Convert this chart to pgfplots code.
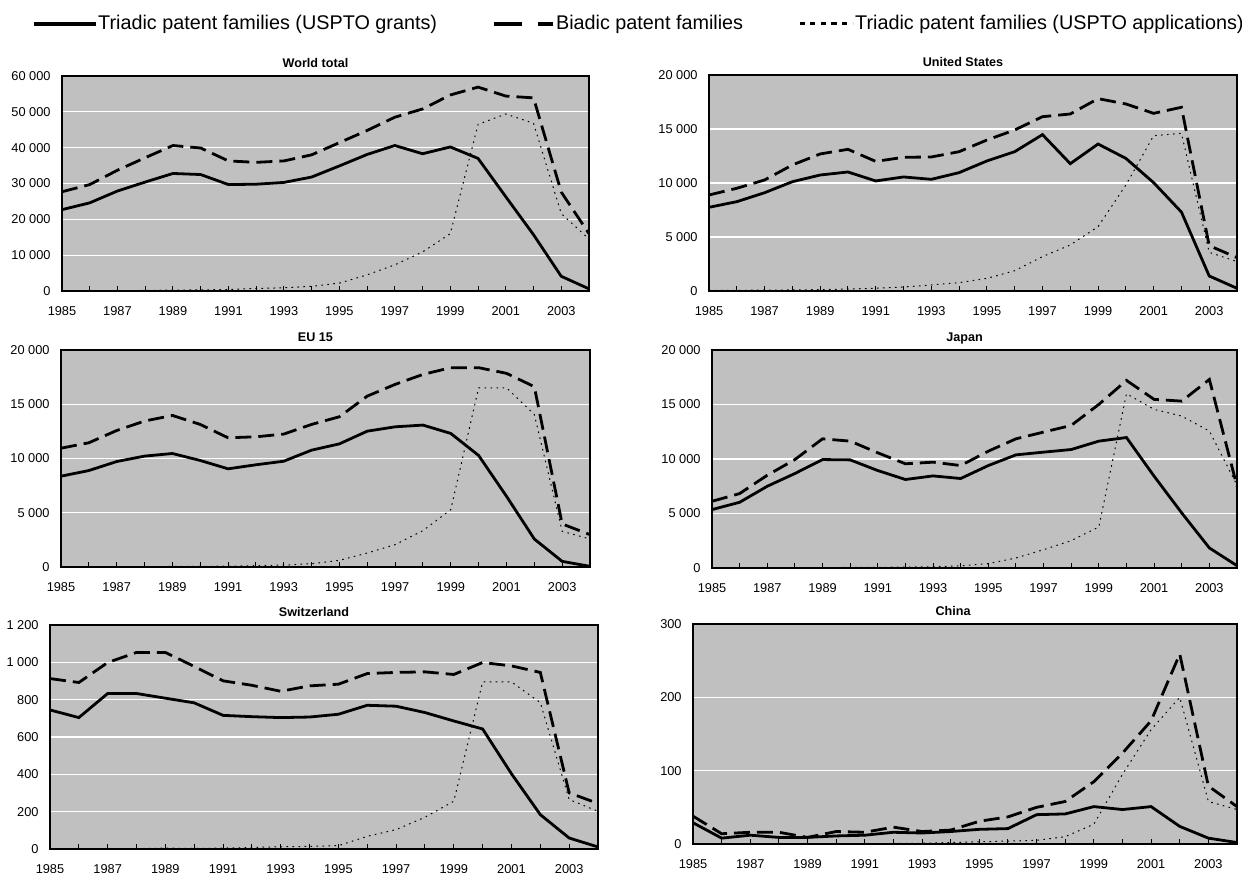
\documentclass[border=0pt]{standalone}
\usepackage{fontspec}
\setmainfont{Liberation Sans}
\usepackage{pgfplots}
\usepackage{pgfplotstable}
\pgfplotsset{compat=1.18}

\definecolor{plotgray}{RGB}{192,192,192}

% year, triadic (grants), biadic, triadic (applications)
\pgfplotstableread{
year grants biadic apps
1985 22700 27700 nan
1986 24600 29700 nan
1987 27900 33700 100
1988 30400 37200 150
1989 32800 40600 250
1990 32500 39900 300
1991 29700 36300 400
1992 29800 35900 700
1993 30300 36300 900
1994 31800 38000 1300
1995 34900 41400 2200
1996 38100 44800 4500
1997 40600 48500 7300
1998 38300 50800 10900
1999 40200 54700 16000
2000 37000 56900 46500
2001 26300 54400 49400
2002 15700 53900 46800
2003 4100 27600 21600
2004 600 16000 14500
}\world

\pgfplotstableread{
year grants biadic apps
1985 7750 8890 50
1986 8270 9510 60
1987 9100 10280 80
1988 10120 11670 100
1989 10740 12690 130
1990 11020 13120 180
1991 10190 12000 250
1992 10560 12380 370
1993 10340 12410 560
1994 10960 12900 770
1995 12040 13980 1170
1996 12900 14910 1880
1997 14480 16140 3180
1998 11790 16390 4260
1999 13610 17810 5960
2000 12280 17320 9810
2001 10030 16450 14380
2002 7310 17010 14600
2003 1390 4200 3580
2004 250 3090 2720
}\usa

\pgfplotstableread{
year grants biadic apps
1985 8370 10950 nan
1986 8890 11450 nan
1987 9720 12580 nan
1988 10220 13450 30
1989 10460 13970 50
1990 9820 13140 60
1991 9050 11910 80
1992 9420 12000 120
1993 9750 12250 180
1994 10770 13140 300
1995 11350 13850 615
1996 12520 15750 1290
1997 12920 16830 2060
1998 13080 17750 3350
1999 12310 18370 5290
2000 10280 18370 16520
2001 6520 17850 16520
2002 2580 16620 14060
2003 520 3970 3290
2004 60 2980 2580
}\eu

\pgfplotstableread{
year grants biadic apps
1985 5360 6120 nan
1986 6030 6830 nan
1987 7500 8510 nan
1988 8670 9950 20
1989 9950 11850 40
1990 9920 11640 50
1991 8940 10570 60
1992 8120 9560 80
1993 8450 9710 120
1994 8210 9400 200
1995 9400 10720 400
1996 10380 11850 920
1997 10630 12470 1680
1998 10870 13080 2510
1999 11640 15010 3770
2000 11970 17210 15990
2001 8420 15470 14550
2002 5050 15310 13940
2003 1840 17300 12560
2004 210 7500 7600
}\japan

\pgfplotstableread{
year grants biadic apps
1985 745 913 nan
1986 704 892 nan
1987 833 999 nan
1988 833 1053 2
1989 808 1053 5
1990 783 978 3
1991 716 901 5
1992 709 877 8
1993 704 845 12
1994 707 874 14
1995 722 883 18
1996 770 940 68
1997 765 946 104
1998 731 949 170
1999 686 935 256
2000 643 999 895
2001 403 981 895
2002 184 946 784
2003 59 301 265
2004 11 244 202
}\swiss

\pgfplotstableread{
year grants biadic apps
1985 29 38 nan
1986 8 14 nan
1987 12 16 nan
1988 9 16 nan
1989 9 9 nan
1990 11 17 nan
1991 12 16 nan
1992 16 23 1
1993 15 17 1
1994 17 19 2
1995 20 31 3
1996 21 37 4
1997 40 50 5
1998 41 58 10
1999 51 85 27
2000 47 124 95
2001 51 168 156
2002 24 259 200
2003 8 79 58
2004 2 51 47
}\china

\pgfplotsset{
  /pgf/number format/assume math mode=true,
  grantsline/.style={black, line width=1.4bp},
  biadicline/.style={black, line width=1.4bp, dash pattern=on 8bp off 3.5bp},
  appsline/.style={black, line width=0.5bp, dash pattern=on 0.8bp off 2.2bp},
  panel/.style={
    scale only axis,
    xmin=1985, xmax=2004, ymin=0,
    xtick={1985,1987,...,2003},
    minor xtick={1986,1988,...,2004},
    xtick pos=bottom, ytick pos=left,
    tick align=inside,
    major tick length=2.5bp, minor tick length=2.5bp,
    tick style={black, line width=0.5bp},
    y tick style={draw=none},
    ymajorgrids, grid style={white, line width=0.6bp},
    axis background/.style={fill=plotgray},
    axis line style={black, line width=0.6bp},
    scaled y ticks=false,
    tick label style={font=\fontsize{6.4bp}{7bp}\selectfont},
    x tick label style={/pgf/number format/1000 sep={}, inner sep=0pt, yshift=-7.5bp},
    y tick label style={/pgf/number format/1000 sep={~}, inner sep=0pt, xshift=-5.5bp},
    title style={font=\bfseries\fontsize{6.3bp}{7bp}\selectfont, at={(0.5,1)},
      anchor=base, yshift=-1.5bp, xshift=-5bp, inner sep=0pt},
  },
}

\newcommand{\threelines}[1]{%
  \addplot[grantsline] table[x=year, y=grants] {#1};
  \addplot[biadicline] table[x=year, y=biadic] {#1};
  \addplot[appsline] table[x=year, y=apps] {#1};
}

\begin{document}
\begin{tikzpicture}
\useasboundingbox (0,0) rectangle (621bp,-436.5bp);

% World total, with the legend for the whole figure
\begin{axis}[panel, at={(31bp,-38bp)}, anchor=north west,
    width=263.5bp, height=107.5bp,
    ymax=60000, ytick={0,10000,...,60000},
    title={World total},
    legend columns=3,
    legend style={at={(-0.057,1.242)}, anchor=west, draw=none, fill=none,
      inner sep=0pt, outer sep=0pt,
      font=\fontsize{9.9bp}{11bp}\selectfont,
      nodes={inner sep=0.5bp},
      /tikz/every even column/.append style={column sep=27bp}},
  ]
  \addplot[grantsline,
    legend image code/.code={\draw[black, line width=1.6bp] (0bp,0bp) -- (31bp,0bp);}]
    table[x=year, y=grants] {\world};
  \addplot[biadicline,
    legend image code/.code={\draw[black, line width=2bp, dash pattern=on 14bp off 8bp] (0bp,0bp) -- (29.5bp,0bp);}]
    table[x=year, y=biadic] {\world};
  \addplot[appsline,
    legend image code/.code={\draw[black, line width=1.5bp, dash pattern=on 2.6bp off 2.7bp] (0bp,0bp) -- (26.5bp,0bp);}]
    table[x=year, y=apps] {\world};
  \legend{Triadic patent families (USPTO grants), Biadic patent families, Triadic patent families (USPTO applications)}
\end{axis}

\begin{axis}[panel, at={(354.5bp,-37.5bp)}, anchor=north west,
    width=264bp, height=108bp,
    ymax=20000, ytick={0,5000,...,20000},
    title={United States}]
  \threelines{\usa}
\end{axis}

\begin{axis}[panel, at={(30.5bp,-175bp)}, anchor=north west,
    width=264.5bp, height=108.5bp,
    ymax=20000, ytick={0,5000,...,20000},
    title={EU 15}]
  \threelines{\eu}
\end{axis}

\begin{axis}[panel, at={(356bp,-175bp)}, anchor=north west,
    width=262.5bp, height=109bp,
    ymax=20000, ytick={0,5000,...,20000},
    title={Japan}]
  \threelines{\japan}
\end{axis}

\begin{axis}[panel, at={(25bp,-312.5bp)}, anchor=north west,
    width=274bp, height=112bp,
    ymax=1200, ytick={0,200,...,1200},
    title={Switzerland}]
  \threelines{\swiss}
\end{axis}

\begin{axis}[panel, at={(346.5bp,-312bp)}, anchor=north west,
    width=272bp, height=110bp,
    ymax=300, ytick={0,100,...,300},
    title style={xshift=-1bp},
    title={China}]
  \threelines{\china}
\end{axis}
\end{tikzpicture}
\end{document}
